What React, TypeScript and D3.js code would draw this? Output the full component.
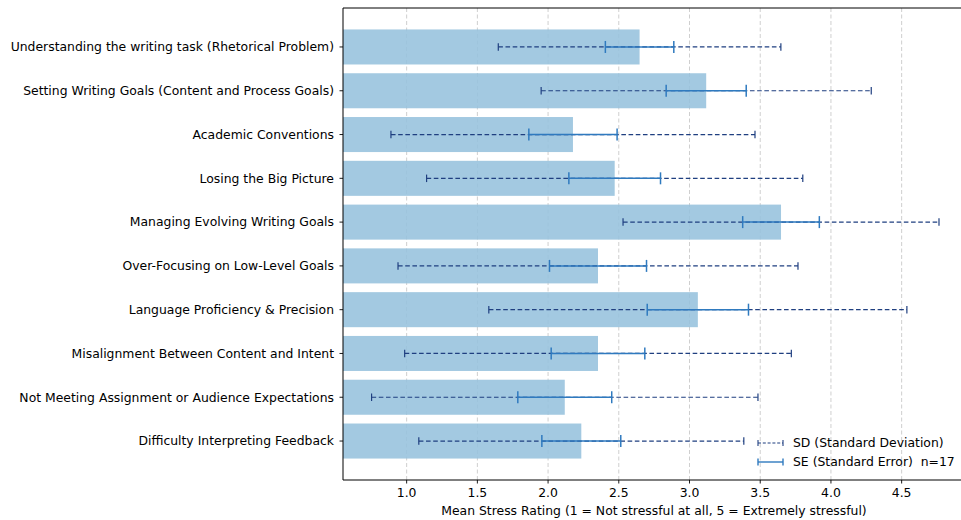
import React from "react";
import * as d3 from "d3";

const categories = [
  "Understanding the writing task (Rhetorical Problem)",
  "Setting Writing Goals (Content and Process Goals)",
  "Academic Conventions",
  "Losing the Big Picture",
  "Managing Evolving Writing Goals",
  "Over-Focusing on Low-Level Goals",
  "Language Proficiency & Precision",
  "Misalignment Between Content and Intent",
  "Not Meeting Assignment or Audience Expectations",
  "Difficulty Interpreting Feedback",
];
const means = [2.647, 3.118, 2.176, 2.471, 3.647, 2.353, 3.059, 2.353, 2.118, 2.235];
const sds = [0.999, 1.167, 1.287, 1.33, 1.117, 1.414, 1.478, 1.367, 1.366, 1.149];
const ses = [0.242, 0.283, 0.312, 0.324, 0.271, 0.343, 0.358, 0.331, 0.332, 0.279];
const xTicks = [1.0, 1.5, 2.0, 2.5, 3.0, 3.5, 4.0, 4.5];
const xLabel = "Mean Stress Rating (1 = Not stressful at all, 5 = Extremely stressful)";
const legendSD = "SD (Standard Deviation)";
const legendSE = "SE (Standard Error)  n=17";

const W = 961;
const H = 520;
const FONT = "'DejaVu Sans', sans-serif";
const FS = 12.4;
const BAR = "#96c2dd";
const SDC = "#1f3f80";
const SEC = "#2f7abf";

export default function App() {
  const x = d3.scaleLinear().domain([0.55, 4.95]).range([343, 965.3]);
  const y = d3.scaleLinear().domain([-0.89, 9.89]).range([8, 480]);
  const top = 8, bottom = 480, left = 343;
  const bh = y(0.4) - y(-0.4);

  const errBar = (lo: number, hi: number, cy: number, color: string, dashed: boolean, cap: number, lw: number, key: string) => (
    <g key={key}>
      <line x1={x(lo)} x2={x(hi)} y1={cy} y2={cy} stroke={color} strokeWidth={lw}
        strokeDasharray={dashed ? "4.6,2.6" : undefined} />
      <line x1={x(lo)} x2={x(lo)} y1={cy - cap / 2} y2={cy + cap / 2} stroke={color} strokeWidth={lw} />
      <line x1={x(hi)} x2={x(hi)} y1={cy - cap / 2} y2={cy + cap / 2} stroke={color} strokeWidth={lw} />
    </g>
  );

  return (
    <svg width={W} height={H} style={{ position: "absolute", left: 0, top: 0, background: "#fff" }}
      fontFamily={FONT} fontSize={FS}>
      {xTicks.map((t) => (
        <line key={"g" + t} x1={x(t)} x2={x(t)} y1={top} y2={bottom} stroke="#cfcfcf"
          strokeWidth={1} strokeDasharray="4,2.5" />
      ))}
      {means.map((m, i) => (
        <rect key={"b" + i} x={x(0.55)} y={y(i) - bh / 2} width={x(m) - x(0.55)} height={bh}
          fill={BAR} opacity={0.88} />
      ))}
      {means.map((m, i) => errBar(m - sds[i], m + sds[i], y(i), SDC, true, 7.5, 1.2, "sd" + i))}
      {means.map((m, i) => errBar(m - ses[i], m + ses[i], y(i), SEC, false, 12, 1.5, "se" + i))}
      <line x1={left} x2={W + 10} y1={top} y2={top} stroke="#000" strokeWidth={1} />
      <line x1={left} x2={W + 10} y1={bottom} y2={bottom} stroke="#000" strokeWidth={1} />
      <line x1={left} x2={left} y1={top} y2={bottom} stroke="#000" strokeWidth={1} />
      {xTicks.map((t) => (
        <g key={"xt" + t}>
          <line x1={x(t)} x2={x(t)} y1={bottom} y2={bottom + 3.5} stroke="#000" strokeWidth={0.9} />
          <text x={x(t)} y={bottom + 17} textAnchor="middle" fill="#000">{t.toFixed(1)}</text>
        </g>
      ))}
      {categories.map((c, i) => (
        <g key={"yt" + i}>
          <line x1={left - 3.5} x2={left} y1={y(i)} y2={y(i)} stroke="#000" strokeWidth={0.9} />
          <text x={left - 9} y={y(i)} dy="0.35em" textAnchor="end" fill="#000">{c}</text>
        </g>
      ))}
      <text x={654} y={515} textAnchor="middle" fill="#000">{xLabel}</text>
      <g>
        <line x1={758} x2={783} y1={443} y2={443} stroke={SDC} strokeWidth={1.1} strokeDasharray="3,1.8" />
        <line x1={758} x2={758} y1={440} y2={446} stroke={SDC} strokeWidth={1.1} />
        <line x1={783} x2={783} y1={440} y2={446} stroke={SDC} strokeWidth={1.1} />
        <text x={793} y={443} dy="0.35em" fill="#000">{legendSD}</text>
        <line x1={758} x2={783} y1={462} y2={462} stroke={SEC} strokeWidth={1.4} />
        <line x1={758} x2={758} y1={458.5} y2={465.5} stroke={SEC} strokeWidth={1.4} />
        <line x1={783} x2={783} y1={458.5} y2={465.5} stroke={SEC} strokeWidth={1.4} />
        <text x={793} y={462} dy="0.35em" fill="#000" style={{ whiteSpace: "pre" }}>{legendSE}</text>
      </g>
    </svg>
  );
}
